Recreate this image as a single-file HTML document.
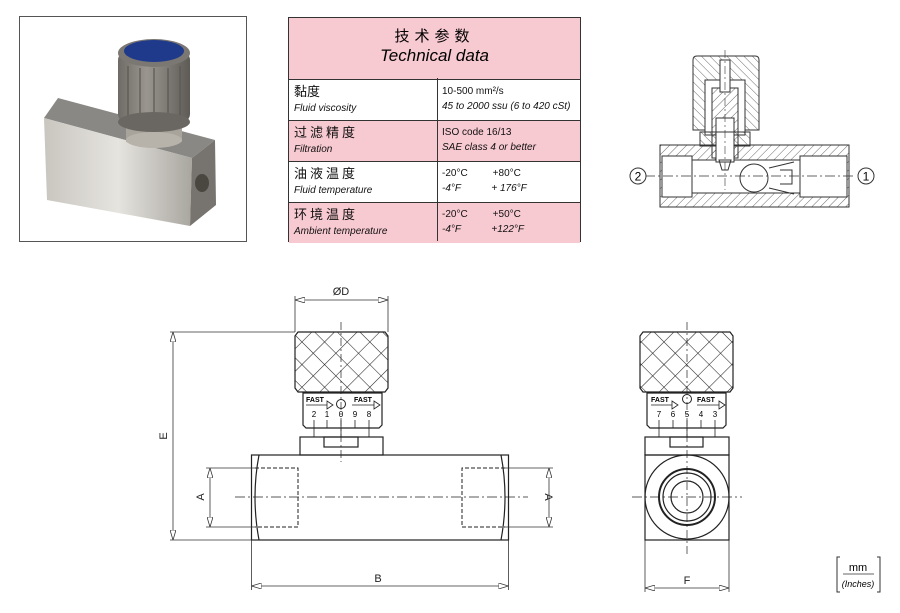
<!DOCTYPE html>
<html><head><meta charset="utf-8"><style>
html,body{margin:0;padding:0;background:#fff;width:900px;height:613px;overflow:hidden;font-family:"Liberation Sans","Noto Sans CJK SC",sans-serif}
.t{position:absolute;left:288px;top:17px;width:293px;height:225px;border:1.5px solid #333;box-sizing:border-box}
.r{position:absolute;left:0;width:100%;border-top:1.5px solid #333;box-sizing:border-box}
.pk{background:#f7c9d0}
.c1{position:absolute;left:5px;font-size:13px;line-height:15px;color:#111}
.c2{position:absolute;left:153px;font-size:10px;line-height:15px;color:#111;font-family:"Liberation Sans Narrow","Liberation Sans",sans-serif;white-space:nowrap}
i{font-style:italic}
.sm{font-size:10px;font-family:"Liberation Sans Narrow","Liberation Sans",sans-serif}
.vl{position:absolute;left:148px;top:60px;bottom:0;border-left:1.5px solid #333}
</style></head><body>
<div class="t">
 <div class="r pk" style="top:0;height:61px;border-top:none;text-align:center">
  <div style="font-size:15px;margin-top:7px;letter-spacing:5px">技术参数</div>
  <div style="font-size:17px;font-style:italic;margin-top:0px">Technical data</div>
 </div>
 <div class="r" style="top:61px;height:41px"><div class="c1" style="top:4px">黏度<br><i class="sm">Fluid viscosity</i></div><div class="c2" style="top:4px">10-500 mm²/s<br><i>45 to 2000 ssu (6 to 420 cSt)</i></div></div>
 <div class="r pk" style="top:102px;height:41px"><div class="c1" style="top:4px;letter-spacing:3px">过滤精度<br><i class="sm" style="letter-spacing:0">Filtration</i></div><div class="c2" style="top:4px">ISO code 16/13<br><i>SAE class 4 or better</i></div></div>
 <div class="r" style="top:143px;height:41px"><div class="c1" style="top:4px;letter-spacing:3px">油液温度<br><i class="sm" style="letter-spacing:0">Fluid temperature</i></div><div class="c2" style="top:4px">-20°C &nbsp;&nbsp;&nbsp;&nbsp;&nbsp;&nbsp;&nbsp;&nbsp;+80°C<br><i>-4°F &nbsp;&nbsp;&nbsp;&nbsp;&nbsp;&nbsp;&nbsp;&nbsp;&nbsp;&nbsp;+ 176°F</i></div></div>
 <div class="r pk" style="top:184px;height:41px"><div class="c1" style="top:4px;letter-spacing:3px">环境温度<br><i class="sm" style="letter-spacing:0">Ambient temperature</i></div><div class="c2" style="top:4px">-20°C &nbsp;&nbsp;&nbsp;&nbsp;&nbsp;&nbsp;&nbsp;&nbsp;+50°C<br><i>-4°F &nbsp;&nbsp;&nbsp;&nbsp;&nbsp;&nbsp;&nbsp;&nbsp;&nbsp;&nbsp;+122°F</i></div></div>
 <div class="vl"></div>
</div>

<svg width="900" height="613" style="position:absolute;left:0;top:0" xmlns="http://www.w3.org/2000/svg" font-family="Liberation Sans, sans-serif">
<defs>
 <pattern id="h" width="6" height="6" patternUnits="userSpaceOnUse" patternTransform="rotate(45)"><line x1="0" y1="0" x2="0" y2="6" stroke="#444" stroke-width="0.8"/></pattern>
 <pattern id="h2" width="6" height="6" patternUnits="userSpaceOnUse" patternTransform="rotate(-45)"><line x1="0" y1="0" x2="0" y2="6" stroke="#444" stroke-width="0.8"/></pattern>
 <pattern id="k" x="295" y="332" width="16" height="16" patternUnits="userSpaceOnUse" patternTransform="rotate(45)"><line x1="0" y1="0" x2="0" y2="16" stroke="#222" stroke-width="1.1"/><line x1="0" y1="0" x2="16" y2="0" stroke="#222" stroke-width="1.1"/></pattern>
 <linearGradient id="bf" x1="0" y1="0" x2="1" y2="0"><stop offset="0" stop-color="#c9c6c0"/><stop offset=".5" stop-color="#e6e4df"/><stop offset="1" stop-color="#a9a6a0"/></linearGradient>
 <linearGradient id="kn" x1="0" y1="0" x2="1" y2="0"><stop offset="0" stop-color="#6e6b66"/><stop offset=".4" stop-color="#9a968f"/><stop offset="1" stop-color="#5e5b57"/></linearGradient>
 <marker id="a" markerWidth="10" markerHeight="6" refX="10" refY="3" orient="auto-start-reverse" markerUnits="userSpaceOnUse"><path d="M0,0 L10,3 L0,6 Z" fill="#fff" stroke="#333" stroke-width="0.8"/></marker>
</defs>

<!-- photo -->
<rect x="19.5" y="16.5" width="227" height="225" fill="#fff" stroke="#555" stroke-width="1"/>
<polygon points="44,118 58,98 215,140 192,158" fill="#8a8884"/>
<polygon points="44,118 192,158 190,226 47,200" fill="url(#bf)"/>
<polygon points="192,158 215,140 216,205 190,226" fill="#77746f"/>
<ellipse cx="202" cy="183" rx="7" ry="9" fill="#4a4640"/>
<rect x="126" y="100" width="56" height="42" fill="#a8a49c"/>
<ellipse cx="154" cy="140" rx="28" ry="8" fill="#b7b3ab"/>
<rect x="118" y="52" width="72" height="70" rx="8" fill="url(#kn)"/>
<g stroke="#5a5752" stroke-width="1.2"><line x1="128" y1="66" x2="128" y2="118"/><line x1="140" y1="68" x2="140" y2="122"/><line x1="154" y1="68" x2="154" y2="124"/><line x1="168" y1="68" x2="168" y2="122"/><line x1="180" y1="66" x2="180" y2="118"/></g>
<ellipse cx="154" cy="122" rx="36" ry="10" fill="#6a6762"/>
<ellipse cx="154" cy="53" rx="36" ry="14" fill="#7b7873"/>
<ellipse cx="154" cy="51" rx="30" ry="11" fill="#1f3a8a"/>

<!-- section view -->
<g stroke="#333" stroke-width="1" fill="none">
 <rect x="660" y="145" width="189" height="62" fill="url(#h)"/>
 <rect x="662" y="156" width="30" height="41" fill="#fff"/>
 <rect x="692" y="160" width="110" height="33" fill="#fff"/>
 <rect x="800" y="156" width="47" height="41" fill="#fff"/>
 <path d="M693,60 q0,-4 4,-4 h58 q4,0 4,4 v70 h-66 z" fill="url(#h2)"/>
 <path d="M705,80 h40 v55 h-40z" fill="#fff"/>
 <path d="M712,88 h26 v70 h-26z" fill="url(#h)"/>
 <rect x="716" y="118" width="18" height="42" fill="#fff"/>
 <rect x="720" y="60" width="10" height="32" fill="#fff"/>
 <path d="M700,132 h50 v14 h-50z" fill="url(#h2)"/>
 <rect x="716" y="132" width="18" height="30" fill="#fff"/>
 <path d="M719,160 h12 l-3,10 h-6z"/>
 <circle cx="754" cy="178" r="14" fill="#fff"/>
 <path d="M769,168 l25,-6 M769,188 l25,6 M780,170 h12 v14 h-12"/>
</g>
<line x1="645" y1="176" x2="855" y2="176" stroke="#333" stroke-width=".7" stroke-dasharray="10,3,2,3"/>
<line x1="725" y1="50" x2="725" y2="190" stroke="#333" stroke-width=".6" stroke-dasharray="8,3,2,3"/>
<circle cx="638" cy="176" r="8" fill="#fff" stroke="#333"/><text x="638" y="180.5" font-size="12" text-anchor="middle">2</text>
<circle cx="866" cy="176" r="8" fill="#fff" stroke="#333"/><text x="866" y="180.5" font-size="12" text-anchor="middle">1</text>

<!-- front view -->
<g stroke="#222" stroke-width="1.2" fill="none">
 <path d="M295,336 l3,-4 h87 l3,4 v52 l-3,4 h-87 l-3,-4 z" fill="url(#k)"/>
 <path d="M303,393 h79 v32 l-3,3 h-73 l-3,-3 z" fill="#fff"/>
 <rect x="300" y="437" width="83" height="18"/>
 <rect x="324" y="437" width="34" height="10"/>
 <rect x="251.5" y="455" width="257" height="85"/>
 <path d="M259,455 q-8,42 0,85 M501,455 q8,42 0,85"/>
</g>
<g stroke="#222" stroke-width="1" fill="none" stroke-dasharray="4,2">
 <path d="M255,468 h43 v59 h-43 M505,468 h-43 v59 h43"/>
</g>
<g stroke="#222" stroke-width=".8">
 <line x1="314" y1="420" x2="314" y2="437"/><line x1="327" y1="420" x2="327" y2="428"/><line x1="341" y1="420" x2="341" y2="437"/><line x1="355" y1="420" x2="355" y2="428"/><line x1="369" y1="420" x2="369" y2="437"/>
 <line x1="306" y1="405" x2="327" y2="405"/><line x1="352" y1="405" x2="374" y2="405"/>
</g>
<path d="M327,401 l6,4 -6,4z M374,401 l6,4 -6,4z" fill="#fff" stroke="#222" stroke-width=".8"/>
<circle cx="341" cy="404" r="4.5" fill="none" stroke="#222"/>
<g font-size="7" font-weight="bold"><text x="306" y="402">FAST</text><text x="354" y="402">FAST</text></g>
<g font-size="8" text-anchor="middle"><text x="314" y="417">2</text><text x="327" y="417">1</text><text x="341" y="417">0</text><text x="355" y="417">9</text><text x="369" y="417">8</text></g>
<line x1="341" y1="322" x2="341" y2="462" stroke="#222" stroke-width=".7" stroke-dasharray="8,3,2,3"/>
<line x1="235" y1="497" x2="528" y2="497" stroke="#222" stroke-width=".7" stroke-dasharray="10,3,2,3"/>
<!-- dims -->
<g stroke="#333" stroke-width=".8" fill="none">
 <line x1="295" y1="296" x2="295" y2="332"/><line x1="388" y1="296" x2="388" y2="332"/>
 <line x1="295" y1="300" x2="388" y2="300" marker-start="url(#a)" marker-end="url(#a)"/>
 <line x1="170" y1="332" x2="295" y2="332"/><line x1="170" y1="540" x2="251" y2="540"/>
 <line x1="173" y1="332" x2="173" y2="540" marker-start="url(#a)" marker-end="url(#a)"/>
 <line x1="206" y1="468" x2="255" y2="468"/><line x1="206" y1="527" x2="255" y2="527"/>
 <line x1="210" y1="468" x2="210" y2="527" marker-start="url(#a)" marker-end="url(#a)"/>
 <line x1="505" y1="468" x2="553" y2="468"/><line x1="505" y1="527" x2="553" y2="527"/>
 <line x1="549" y1="468" x2="549" y2="527" marker-start="url(#a)" marker-end="url(#a)"/>
 <line x1="251.5" y1="540" x2="251.5" y2="590"/><line x1="508.5" y1="540" x2="508.5" y2="590"/>
 <line x1="251.5" y1="586" x2="508.5" y2="586" marker-start="url(#a)" marker-end="url(#a)"/>
 <line x1="645" y1="540" x2="645" y2="592"/><line x1="729" y1="540" x2="729" y2="592"/>
 <line x1="645" y1="588" x2="729" y2="588" marker-start="url(#a)" marker-end="url(#a)"/>
</g>
<g font-size="11" text-anchor="middle" fill="#222">
 <text x="341" y="295">ØD</text>
 <text x="378" y="582">B</text>
 <text x="687" y="584">F</text>
 <text transform="translate(167,436) rotate(-90)">E</text>
 <text transform="translate(204,497) rotate(-90)">A</text>
 <text transform="translate(545,497) rotate(90)">A</text>
</g>

<!-- side view -->
<g stroke="#222" stroke-width="1.2" fill="none">
 <path d="M640,336 l3,-4 h87 l3,4 v52 l-3,4 h-87 l-3,-4 z" fill="url(#k)"/>
 <path d="M647,393 h79 v32 l-3,3 h-73 l-3,-3 z" fill="#fff"/>
 <rect x="645" y="437" width="84" height="18"/>
 <rect x="670" y="437" width="33" height="10"/>
 <rect x="645" y="455" width="84" height="85"/>
 <circle cx="687" cy="497" r="42"/>
 <circle cx="687" cy="497" r="28" stroke-width="2"/>
 <circle cx="687" cy="497" r="24"/>
 <circle cx="687" cy="497" r="16"/>
</g>
<g stroke="#222" stroke-width=".8">
 <line x1="659" y1="420" x2="659" y2="437"/><line x1="673" y1="420" x2="673" y2="428"/><line x1="687" y1="420" x2="687" y2="437"/><line x1="701" y1="420" x2="701" y2="428"/><line x1="715" y1="420" x2="715" y2="437"/>
 <line x1="651" y1="405" x2="672" y2="405"/><line x1="697" y1="405" x2="719" y2="405"/>
</g>
<path d="M672,401 l6,4 -6,4z M719,401 l6,4 -6,4z" fill="#fff" stroke="#222" stroke-width=".8"/>
<circle cx="687" cy="399" r="4.5" fill="none" stroke="#222"/>
<g font-size="7" font-weight="bold"><text x="651" y="402">FAST</text><text x="697" y="402">FAST</text></g>
<g font-size="8" text-anchor="middle"><text x="659" y="417">7</text><text x="673" y="417">6</text><text x="687" y="417">5</text><text x="701" y="417">4</text><text x="715" y="417">3</text></g>
<line x1="687" y1="322" x2="687" y2="555" stroke="#222" stroke-width=".7" stroke-dasharray="8,3,2,3"/>
<line x1="632" y1="497" x2="742" y2="497" stroke="#222" stroke-width=".7" stroke-dasharray="10,3,2,3"/>

<!-- units -->
<path d="M840,557 h-3 v35 h3 M877,557 h3 v35 h-3" fill="none" stroke="#333"/>
<line x1="843" y1="574" x2="874" y2="574" stroke="#333" stroke-width=".8"/>
<text x="858" y="571" font-size="11" text-anchor="middle">mm</text>
<text x="858" y="587" font-size="9" font-style="italic" text-anchor="middle">(Inches)</text>
</svg>
</body></html>
